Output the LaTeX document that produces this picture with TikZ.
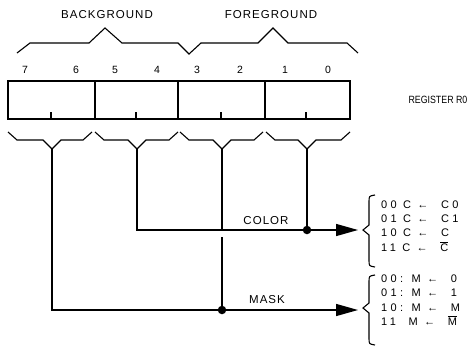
\documentclass[tikz,border=0pt]{standalone}
\usepackage{fontspec}
\setmainfont{Liberation Sans}
\newfontfamily\spaced[LetterSpace=9]{Liberation Sans}
\newfontfamily\wide[LetterSpace=30]{Liberation Sans}
\newfontfamily\narrow[FakeStretch=0.84]{Liberation Sans}
\usetikzlibrary{arrows.meta}
\tikzset{
  reg/.style={line width=1.4pt},
  brace/.style={line width=1.1pt, line join=miter},
  wire/.style={line width=1.4pt},
  feed/.style={wire, -{Triangle[length=22pt, width=12pt]}},
  dot/.style={circle, fill, inner sep=0pt, minimum size=8.5pt},
  tag/.style={font=\spaced\fontsize{11.5}{13}\selectfont},
  regtag/.style={font=\narrow\fontsize{10.5}{12}\selectfont},
  bitnum/.style={font=\fontsize{10.5}{12}\selectfont},
  truth/.style={font=\wide\fontsize{11}{14.4}\selectfont, align=left, anchor=west, inner sep=0pt},
}

\begin{document}
\begin{tikzpicture}[x=1pt, y=-1pt]
  \useasboundingbox (0,0) rectangle (470,348);

  % Field names and top braces
  \node[tag] (bg) at (107,15) {BACKGROUND};
  \node[tag] (fg) at (271,15) {FOREGROUND};
  \draw[brace] (17,53) -- (30,43) -- (89,43) -- (105,28) -- (122,43) -- (178,43)
    -- (189,54) -- (201,43) -- (258,43) -- (273,28) -- (288,43) -- (347,43) -- (358,53);

  % Bit numbers
  \foreach \b/\x in {7/25, 6/76, 5/115, 4/157, 3/197, 2/240, 1/285, 0/328}
    \node[bitnum] (bit\b) at (\x,70) {\b};

  % Register R0
  \draw[reg] (8,81) rectangle (350,119);
  \foreach \x in {95,178,265}
    \draw[reg] (\x,81) -- (\x,119);
  \node[regtag, anchor=west] (regname) at (405,100) {REGISTER R0};

  % Bit pair braces below the register
  \foreach \f/\s/\t/\e in {76/8/52/92, 54/95/137/178, 32/180/222/263, 10/266/307/350} {
    \draw[reg] (\t-1,112) -- (\t-1,119);
    \draw[brace] (\s,132) -- (\s+9,140) -- (\t-9,140) -- (\t,149)
      -- (\t+9,140) -- (\e-9,140) -- (\e,132);
    \coordinate (tip\f) at (\t,149);
  }

  % Color and mask lines
  \coordinate (colorend) at (358,230);
  \coordinate (maskend) at (358,310);
  \coordinate (cross) at (222,230);
  \node[dot] (colordot) at (307,230) {};
  \node[dot] (maskdot) at (222,310) {};
  \draw[feed] (tip54) |- (colorend);
  \draw[wire] (tip10) -- (colordot);
  \draw[feed] (tip76) |- (maskend);
  \draw[wire] (tip32) -- (cross);
  \draw[wire] ([yshift=-7pt]cross) -- (maskdot);
  \node[tag] (colorname) at (266,221) {COLOR};
  \node[tag] (maskname) at (267,300) {MASK};

  % Truth tables
  \foreach \top/\tip/\bot in {195/230/267, 275/308/345}
    \draw[brace] (375,\top) .. controls (369,\top+1) .. (369,\top+7) -- (369,\tip-5)
      -- (363,\tip) -- (369,\tip+5) -- (369,\bot-7) .. controls (369,\bot-1) .. (375,\bot);
  \node[truth] (colortab) at (381,226)
    {00\ C\ ←\ \ C0\\01\ C\ ←\ \ C1\\10\ C\ ←\ \ C\\11\ C\ ←\ \ $\overline{\mbox{C}}$};
  \node[truth] (masktab) at (381,300)
    {00: M ← \ 0\\01: M ← \ 1\\10: M ← \ M\\11\ \ M ← \ $\overline{\mbox{M}}$};
\end{tikzpicture}
\end{document}
